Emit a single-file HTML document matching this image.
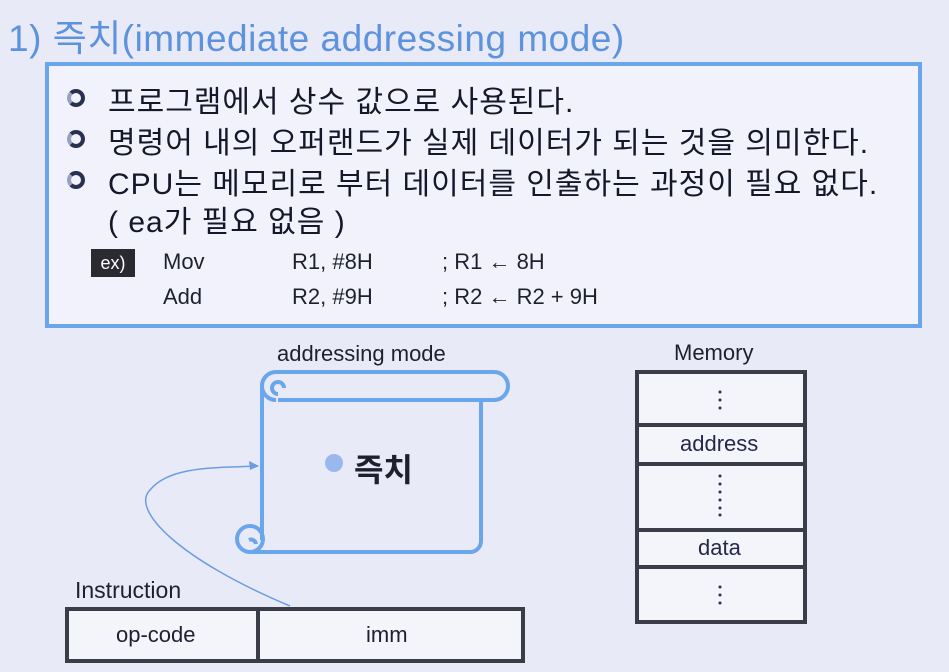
<!DOCTYPE html>
<html><head><meta charset="utf-8"><style>
body{margin:0;width:949px;height:672px;background:#e9eaf7;overflow:hidden;position:relative;font-family:"Liberation Sans","Noto Sans CJK KR",sans-serif;color:#1e2030}
.a{position:absolute;white-space:nowrap}
.t{font-size:30px;left:108px;letter-spacing:1px;color:#15172a}
.b{position:absolute;left:67px;width:10px;height:10px;border:4px solid #2a3050;border-radius:50%;border-left-color:#9aa0c0}
.c{font-size:22px}
</style></head><body>
<div class="a" style="left:8px;top:8px;font-size:37px;color:#5d92dc;letter-spacing:0.5px">1) 즉치(immediate addressing mode)</div>
<div class="a" style="left:45px;top:62px;width:869px;height:258px;border:4px solid #6aa6ec;background:#f1f2fb"></div>
<div class="b" style="top:89px"></div><div class="a t" style="top:77px">프로그램에서 상수 값으로 사용된다.</div>
<div class="b" style="top:130px"></div><div class="a t" style="top:118px">명령어 내의 오퍼랜드가 실제 데이터가 되는 것을 의미한다.</div>
<div class="b" style="top:171px"></div><div class="a t" style="top:159px">CPU는 메모리로 부터 데이터를 인출하는 과정이 필요 없다.</div>
<div class="a t" style="top:197px">( ea가 필요 없음 )</div>
<div class="a" style="left:91px;top:249px;width:44px;height:28px;background:#2a2a30;color:#fff;font-size:18px;text-align:center;line-height:28px">ex)</div>
<div class="a c" style="left:163px;top:249px">Mov</div><div class="a c" style="left:292px;top:249px">R1, #8H</div><div class="a c" style="left:442px;top:249px">; R1 ← 8H</div>
<div class="a c" style="left:163px;top:284px">Add</div><div class="a c" style="left:292px;top:284px">R2, #9H</div><div class="a c" style="left:442px;top:284px">; R2 ← R2 + 9H</div>
<svg class="a" style="left:0;top:0" width="949" height="672">
<g fill="none" stroke="#6aa6ec" stroke-width="4">
<path d="M262 386 V540 M250 552 H470 a11 11 0 0 0 11 -11 V400"/>
<path d="M278 400 H494 a14 14 0 0 0 0 -28 H276 a14 14 0 0 0 0 28"/>
<path d="M284 388 a6 6 0 1 0 -6 6"/>
<circle cx="250" cy="539" r="13"/>
<path d="M256 544 a5 5 0 0 0 -7 -4"/>
</g>
<path d="M290 606 C180 560 130 510 150 490 C170 465 220 468 258 466" fill="none" stroke="#6a9ee0" stroke-width="1.5"/>
<path d="M259 466 l-10 -5 l1 9 z" fill="#6a9ee0"/>
<circle cx="334" cy="463" r="9" fill="#9ab8ee"/>
<g fill="#f4f4fb" stroke="#3a3d48" stroke-width="4">
<rect x="67" y="609" width="191" height="52"/><rect x="258" y="609" width="265" height="52"/>
<rect x="637" y="372" width="168" height="53"/><rect x="637" y="425" width="168" height="39"/><rect x="637" y="464" width="168" height="66"/><rect x="637" y="530" width="168" height="37"/><rect x="637" y="567" width="168" height="55"/>
</g>
<g fill="#2a2d50"><circle cx="720" cy="392" r="1.5"/><circle cx="720" cy="400" r="1.5"/><circle cx="720" cy="408" r="1.5"/>
<circle cx="720" cy="476" r="1.5"/><circle cx="720" cy="484" r="1.5"/><circle cx="720" cy="492" r="1.5"/><circle cx="720" cy="500" r="1.5"/><circle cx="720" cy="508" r="1.5"/><circle cx="720" cy="515" r="1.5"/>
<circle cx="720" cy="587" r="1.5"/><circle cx="720" cy="595" r="1.5"/><circle cx="720" cy="603" r="1.5"/></g>
</svg>
<div class="a" style="left:277px;top:341px;font-size:22px">addressing mode</div>
<div class="a" style="left:354px;top:445px;font-size:32px;font-weight:bold">즉치</div>
<div class="a" style="left:75px;top:577px;font-size:23px">Instruction</div>
<div class="a" style="left:116px;top:622px;font-size:22px">op-code</div>
<div class="a" style="left:366px;top:622px;font-size:22px">imm</div>
<div class="a" style="left:674px;top:340px;font-size:22px">Memory</div>
<div class="a" style="left:680px;top:431px;font-size:22px;color:#25284a">address</div>
<div class="a" style="left:698px;top:535px;font-size:22px;color:#25284a">data</div>
</body></html>
